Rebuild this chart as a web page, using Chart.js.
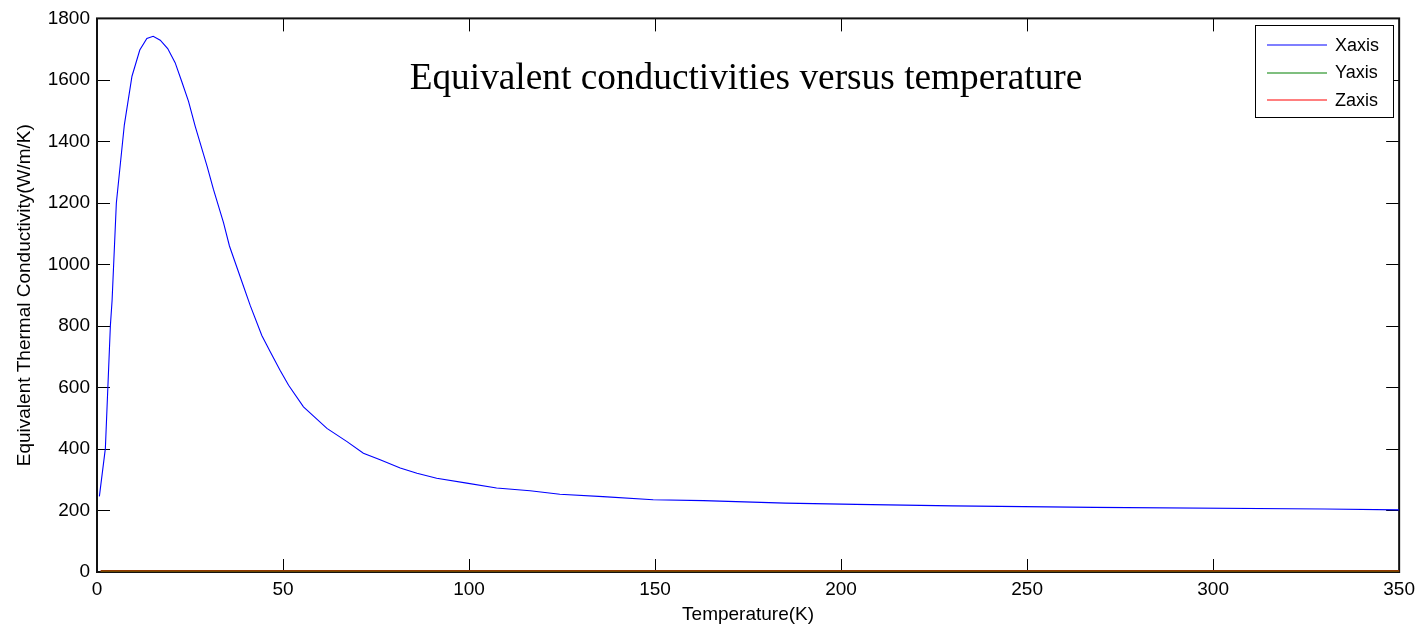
<!DOCTYPE html>
<html><head><meta charset="utf-8">
<script src="https://cdn.jsdelivr.net/npm/chart.js@4/dist/chart.umd.min.js"></script>
<style>html,body{margin:0;padding:0;background:#fff;overflow:hidden}#wrap{width:1421px;height:627px;position:relative}</style>
</head><body><div id="wrap"><canvas id="c"></canvas></div>
<script>
// ---- data ----
const tempX = [0.64, 2.25, 3.6, 4.05, 5.2, 7.35, 9.4, 11.5, 13.4, 15.1, 17, 19, 21, 22.8, 24.6, 26.4, 29.6, 31.3, 34, 35.6, 39, 41.2, 44.3, 46.6, 49.2, 51.5, 55.5, 61.8, 67.2, 71.6, 76.1, 81.5, 86, 91.3, 99.4, 107.4, 116.4, 124.4, 136, 149.5, 163, 185, 204, 230, 268, 330, 350];
const condX = [246, 402, 802, 882, 1200, 1454, 1612, 1697, 1735, 1742, 1729, 1702, 1656, 1594, 1530, 1449, 1319, 1244, 1136, 1060, 942, 866, 769, 715, 656, 607, 537, 467, 424, 386, 365, 338, 321, 305, 289, 273, 264, 253, 245, 235, 232, 224, 220, 215, 210, 205, 202];
const tempY = [1, 50, 100, 150, 200, 250, 300, 350];
const condY = [3, 3, 3, 3, 3, 3, 3, 3];
const tempZ = [1, 50, 100, 150, 200, 250, 300, 350];
const condZ = [3, 3, 3, 3, 3, 3, 3, 3];
const seriesNames = ['Xaxis', 'Yaxis', 'Zaxis'];
const seriesColors = ['#0000ff', '#008000', '#ff0000'];
const xRange = [0, 350], xStep = 50;
const yRange = [0, 1800], yStep = 200;
const chartTitle = 'Equivalent conductivities versus temperature';
const xTitle = 'Temperature(K)';
const yTitle = 'Equivalent Thermal Conductivity(W/m/K)';

const toPts = (xs, ys) => xs.map((v, i) => ({x: v, y: ys[i]}));
const FONT = "'Liberation Sans', Arial, sans-serif";

const framePlugin = {
  id: 'frame',
  beforeDatasetsDraw(chart) {
    const {ctx, chartArea: a, scales: {x, y}} = chart;
    ctx.save();
    ctx.strokeStyle = '#000';
    ctx.lineWidth = 1;
    ctx.beginPath();
    x.ticks.forEach(t => {
      const px = Math.round(x.getPixelForValue(t.value)) + 0.5;
      ctx.moveTo(px, a.bottom); ctx.lineTo(px, a.bottom - 13);
      ctx.moveTo(px, a.top); ctx.lineTo(px, a.top + 13);
    });
    y.ticks.forEach(t => {
      const py = Math.round(y.getPixelForValue(t.value)) + 0.5;
      ctx.moveTo(a.left, py); ctx.lineTo(a.left + 13, py);
      ctx.moveTo(a.right, py); ctx.lineTo(a.right - 13, py);
    });
    ctx.stroke();
    ctx.lineWidth = 2;
    ctx.strokeStyle = '#111';
    ctx.strokeRect(a.left, a.top, a.right - a.left, a.bottom - a.top);
    ctx.restore();
  },
  afterDatasetsDraw(chart) {
    const {ctx, chartArea: a} = chart;
    ctx.save();
    // title inside plot
    ctx.fillStyle = '#000';
    let fs = 37;
    ctx.font = fs + "px 'Liberation Serif', 'Times New Roman', serif";
    const w = ctx.measureText(chartTitle).width;
    fs = fs * 673 / w;
    ctx.font = fs.toFixed(2) + "px 'Liberation Serif', 'Times New Roman', serif";
    ctx.textAlign = 'center';
    ctx.textBaseline = 'alphabetic';
    ctx.fillText(chartTitle, 746, 89);
    // axis titles
    ctx.font = '19px ' + FONT;
    ctx.textBaseline = 'middle';
    ctx.fillText(xTitle, (a.left + a.right) / 2, 615);
    ctx.save();
    ctx.translate(25, (a.top + a.bottom) / 2);
    ctx.rotate(-Math.PI / 2);
    ctx.fillText(yTitle, 0, 0);
    ctx.restore();
    // legend
    const lx = 1255, ly = 25, lw = 138, lh = 92;
    ctx.fillStyle = '#fff';
    ctx.fillRect(lx, ly, lw, lh);
    ctx.strokeStyle = '#000';
    ctx.lineWidth = 1;
    ctx.strokeRect(lx + 0.5, ly + 0.5, lw, lh);
    ctx.font = '18px ' + FONT;
    ctx.textAlign = 'left';
    seriesNames.forEach((n, i) => {
      const ry = ly + 20 + i * 27.5;
      ctx.strokeStyle = seriesColors[i];
      ctx.lineWidth = 1.2;
      ctx.beginPath();
      ctx.moveTo(lx + 12, Math.round(ry));
      ctx.lineTo(lx + 72, Math.round(ry));
      ctx.stroke();
      ctx.fillStyle = '#000';
      ctx.fillText(n, lx + 80, ry + 1);
    });
    ctx.restore();
  }
};

new Chart(document.getElementById('c'), {
  type: 'scatter',
  data: {
    datasets: [
      {label: seriesNames[0], data: toPts(tempX, condX), borderColor: seriesColors[0], borderWidth: 1.1},
      {label: seriesNames[1], data: toPts(tempY, condY), borderColor: seriesColors[1], borderWidth: 1},
      {label: seriesNames[2], data: toPts(tempZ, condZ), borderColor: seriesColors[2], borderWidth: 2}
    ].map(d => Object.assign(d, {showLine: true, pointRadius: 0, tension: 0, fill: false, clip: 4}))
  },
  options: {
    responsive: true,
    maintainAspectRatio: false,
    animation: false,
    devicePixelRatio: 1,
    layout: {padding: {top: 15, right: 21, left: 0, bottom: 0}},
    plugins: {legend: {display: false}, tooltip: {enabled: false}, title: {display: false}},
    scales: {
      x: {
        type: 'linear', min: xRange[0], max: xRange[1],
        ticks: {stepSize: xStep, color: '#000', font: {family: FONT, size: 19}, padding: 6, maxRotation: 0, autoSkip: false,
          callback: v => String(v)},
        grid: {display: false, drawTicks: false},
        border: {display: false},
        afterFit(s) { s.height = 55; }
      },
      y: {
        type: 'linear', min: yRange[0], max: yRange[1],
        ticks: {stepSize: yStep, color: '#000', font: {family: FONT, size: 19}, padding: 7,
          callback: v => String(v)},
        grid: {display: false, drawTicks: false},
        border: {display: false},
        afterFit(s) { s.width = 97; }
      }
    }
  },
  plugins: [framePlugin]
});
</script>
</body></html>
